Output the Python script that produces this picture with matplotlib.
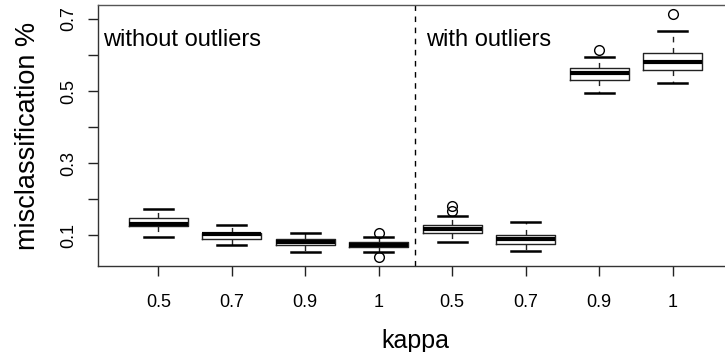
import matplotlib
matplotlib.use("Agg")
import matplotlib.pyplot as plt

plt.rcParams['font.family'] = ['Liberation Sans', 'DejaVu Sans']

# Data
tick_labels = ["0.5", "0.7", "0.9", "1", "0.5", "0.7", "0.9", "1"]
whislo = [0.094, 0.072, 0.053, 0.053, 0.081, 0.056, 0.495, 0.523]
q1     = [0.124, 0.088, 0.072, 0.067, 0.107, 0.075, 0.532, 0.558]
med    = [0.131, 0.102, 0.080, 0.073, 0.116, 0.089, 0.549, 0.581]
q3     = [0.146, 0.107, 0.088, 0.082, 0.127, 0.101, 0.564, 0.607]
whishi = [0.172, 0.128, 0.106, 0.094, 0.153, 0.137, 0.594, 0.668]
fliers = [[], [], [], [0.107, 0.040], [0.181, 0.167], [], [0.614], [0.713]]
group_labels = ["without outliers", "with outliers"]

stats = []
for i in range(len(med)):
    stats.append(dict(med=med[i], q1=q1[i], q3=q3[i], whislo=whislo[i],
                      whishi=whishi[i], fliers=fliers[i]))

W, H = 725, 352
fig = plt.figure(figsize=(W / 100, H / 100), dpi=100)
ax = fig.add_axes([98 / W, 86 / H, 635 / W, 261 / H])

positions = list(range(1, len(med) + 1))
ax.bxp(stats, positions=positions, widths=0.8, showfliers=True,
       boxprops=dict(color="#222222", linewidth=1.0),
       medianprops=dict(color="black", linewidth=3.0, solid_capstyle="butt"),
       whiskerprops=dict(color="#222222", linewidth=1.0, linestyle=(0, (4, 4))),
       capprops=dict(color="black", linewidth=1.8),
       capwidths=0.4,
       flierprops=dict(marker="o", markerfacecolor="none", markeredgecolor="black",
                       markersize=7, markeredgewidth=1.0))

ax.axvline(4.5, color="black", linewidth=1.0, linestyle=(0, (4, 4)))

ax.set_xlim(0.18, 8.82)
ax.set_ylim(0.014, 0.739)

ax.set_xticks(positions)
ax.set_xticklabels(tick_labels, fontsize=13)
yt = [0.1, 0.2, 0.3, 0.4, 0.5, 0.6, 0.7]
ax.set_yticks(yt)
ax.set_yticklabels(["0.1", "", "0.3", "", "0.5", "", "0.7"], fontsize=13,
                   rotation=90, va="center")
ax.tick_params(axis="x", length=7, width=1.0, pad=13, colors="#222222", labelcolor="black")
ax.tick_params(axis="y", length=7, width=1.0, pad=8, colors="#222222", labelcolor="black")

for s in ["left", "bottom", "top", "right"]:
    ax.spines[s].set_color("#333333")
    ax.spines[s].set_linewidth(1.0)
ax.spines["top"].set_color("#555555")

ax.set_xlabel("kappa", fontsize=18, labelpad=13)
ax.set_ylabel("misclassification %", fontsize=19.5, labelpad=14)

ax.text(0.25, 0.642, group_labels[0], fontsize=17, va="center", ha="left")
ax.text(4.65, 0.642, group_labels[1], fontsize=17, va="center", ha="left")

fig.savefig("out.png", dpi=100)
